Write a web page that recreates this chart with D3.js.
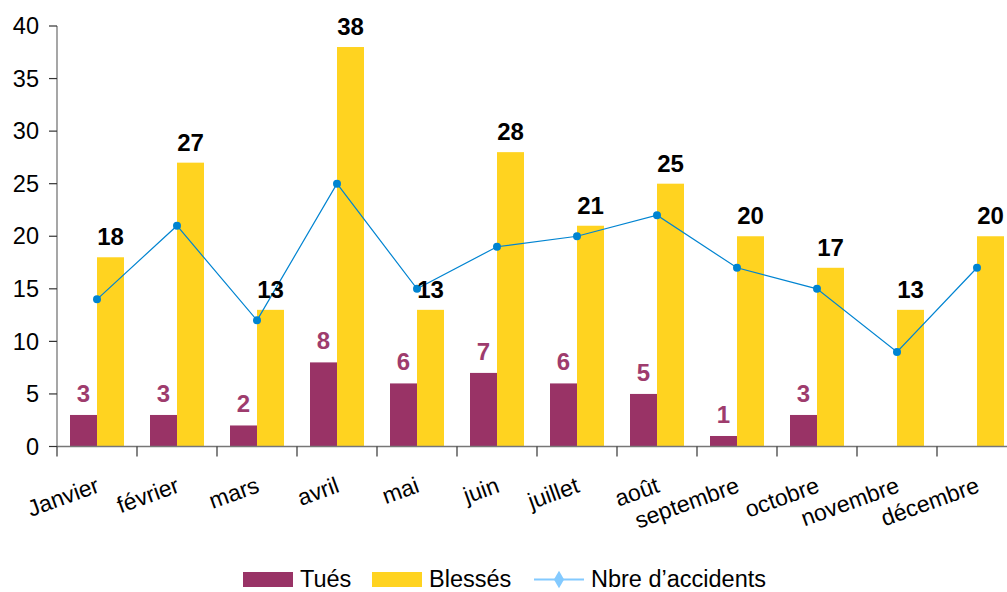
<!DOCTYPE html>
<html>
<head>
<meta charset="utf-8">
<script src="https://cdn.jsdelivr.net/npm/d3@7"></script>
<style>
  body { margin: 0; background: #fff; }
  svg { font-family: "Liberation Sans", Arial, sans-serif; display: block; }
</style>
</head>
<body>
<div id="chart"></div>
<script>
// data
var months = ["Janvier", "février", "mars", "avril", "mai", "juin", "juillet", "août", "septembre", "octobre", "novembre", "décembre"];
var tues = [3, 3, 2, 8, 6, 7, 6, 5, 1, 3, 0, 0];
var blesses = [18, 27, 13, 38, 13, 28, 21, 25, 20, 17, 13, 20];
var accidents = [14, 21, 12, 25, 15, 19, 20, 22, 17, 15, 9, 17];
var yTicks = [0, 5, 10, 15, 20, 25, 30, 35, 40];

var W = 1007, H = 592;
var colTues = "#993366", colBless = "#ffd320", colLine = "#0084d1", colLegLine = "#83caff";

var svg = d3.select("#chart").append("svg").attr("width", W).attr("height", H);

var x = d3.scaleBand().domain(months).range([57, 1017]);
var y = d3.scaleLinear().domain([0, 40]).range([446.5, 26]);
var barW = 27;

// y axis
var yAxis = svg.append("g");
yAxis.append("line").attr("x1", 57).attr("x2", 57).attr("y1", y(40)).attr("y2", y(0))
  .attr("stroke", "#777").attr("stroke-width", 1.3);
yAxis.selectAll("line.tk").data(yTicks).join("line").attr("class", "tk")
  .attr("x1", 49).attr("x2", 57).attr("y1", function (d) { return y(d); }).attr("y2", function (d) { return y(d); })
  .attr("stroke", "#333").attr("stroke-width", 1.2);
yAxis.selectAll("text").data(yTicks).join("text")
  .attr("x", 39).attr("y", function (d) { return y(d); })
  .attr("dy", "0.35em").attr("text-anchor", "end")
  .style("font-size", "23.5px").attr("fill", "#000")
  .text(function (d) { return d; });

// bars
var bars = svg.append("g");
bars.selectAll("rect.tues").data(months).join("rect").attr("class", "tues")
  .attr("x", function (d) { return x(d) + x.bandwidth() / 2 - barW; })
  .attr("y", function (d, i) { return y(tues[i]); })
  .attr("width", barW)
  .attr("height", function (d, i) { return y(0) - y(tues[i]); })
  .attr("fill", colTues);
bars.selectAll("rect.bless").data(months).join("rect").attr("class", "bless")
  .attr("x", function (d) { return x(d) + x.bandwidth() / 2; })
  .attr("y", function (d, i) { return y(blesses[i]); })
  .attr("width", barW)
  .attr("height", function (d, i) { return y(0) - y(blesses[i]); })
  .attr("fill", colBless);

// x axis
var xAxis = svg.append("g");
xAxis.append("line").attr("x1", 57).attr("x2", 1017).attr("y1", y(0)).attr("y2", y(0))
  .attr("stroke", "#777").attr("stroke-width", 1.3);
var bounds = months.map(function (d) { return x(d); });
xAxis.selectAll("line.tk").data(bounds).join("line").attr("class", "tk")
  .attr("x1", function (d) { return d; }).attr("x2", function (d) { return d; })
  .attr("y1", y(0)).attr("y2", y(0) + 10)
  .attr("stroke", "#333").attr("stroke-width", 1.2);
xAxis.selectAll("text").data(months).join("text")
  .attr("transform", function (d) { return "translate(" + (x(d) + x.bandwidth() / 2 - 2) + "," + 476 + ") rotate(-20)"; })
  .attr("text-anchor", "end").attr("dy", "0.72em")
  .style("font-size", "23px").attr("fill", "#000")
  .text(function (d) { return d; });

// line
var line = d3.line()
  .x(function (d, i) { return x(months[i]) + x.bandwidth() / 2; })
  .y(function (d) { return y(d); });
svg.append("path").datum(accidents).attr("d", line)
  .attr("fill", "none").attr("stroke", colLine).attr("stroke-width", 1.2);
svg.append("g").selectAll("circle").data(accidents).join("circle")
  .attr("cx", function (d, i) { return x(months[i]) + x.bandwidth() / 2; })
  .attr("cy", function (d) { return y(d); })
  .attr("r", 4).attr("fill", colLine);

// value labels
var labels = svg.append("g").style("font-weight", "bold").style("font-size", "24px").attr("text-anchor", "middle");
labels.selectAll("text.b").data(months).join("text").attr("class", "b")
  .attr("x", function (d) { return x(d) + x.bandwidth() / 2 + barW / 2; })
  .attr("y", function (d, i) { return y(blesses[i]) - 12; })
  .attr("fill", "#000")
  .text(function (d, i) { return blesses[i]; });
labels.selectAll("text.t").data(months.filter(function (d, i) { return tues[i] > 0; })).join("text").attr("class", "t")
  .attr("x", function (d) { return x(d) + x.bandwidth() / 2 - barW / 2; })
  .attr("y", function (d) { return y(tues[months.indexOf(d)]) - 13; })
  .attr("fill", "#9e3c6d")
  .text(function (d) { return tues[months.indexOf(d)]; });

// legend
var leg = svg.append("g").style("font-size", "23.5px");
leg.append("rect").attr("x", 243).attr("y", 572).attr("width", 50).attr("height", 15).attr("fill", colTues);
leg.append("text").attr("x", 300).attr("y", 586.5).text("Tués");
leg.append("rect").attr("x", 372).attr("y", 572).attr("width", 50).attr("height", 15).attr("fill", colBless);
leg.append("text").attr("x", 429).attr("y", 586.5).text("Blessés");
leg.append("line").attr("x1", 534).attr("x2", 584).attr("y1", 579.5).attr("y2", 579.5)
  .attr("stroke", colLegLine).attr("stroke-width", 2);
leg.append("path").attr("d", d3.symbol(d3.symbolDiamond, 90)())
  .attr("transform", "translate(559,579.5)").attr("fill", colLegLine);
leg.append("text").attr("x", 591).attr("y", 586.5).text("Nbre d’accidents");
</script>
</body>
</html>
